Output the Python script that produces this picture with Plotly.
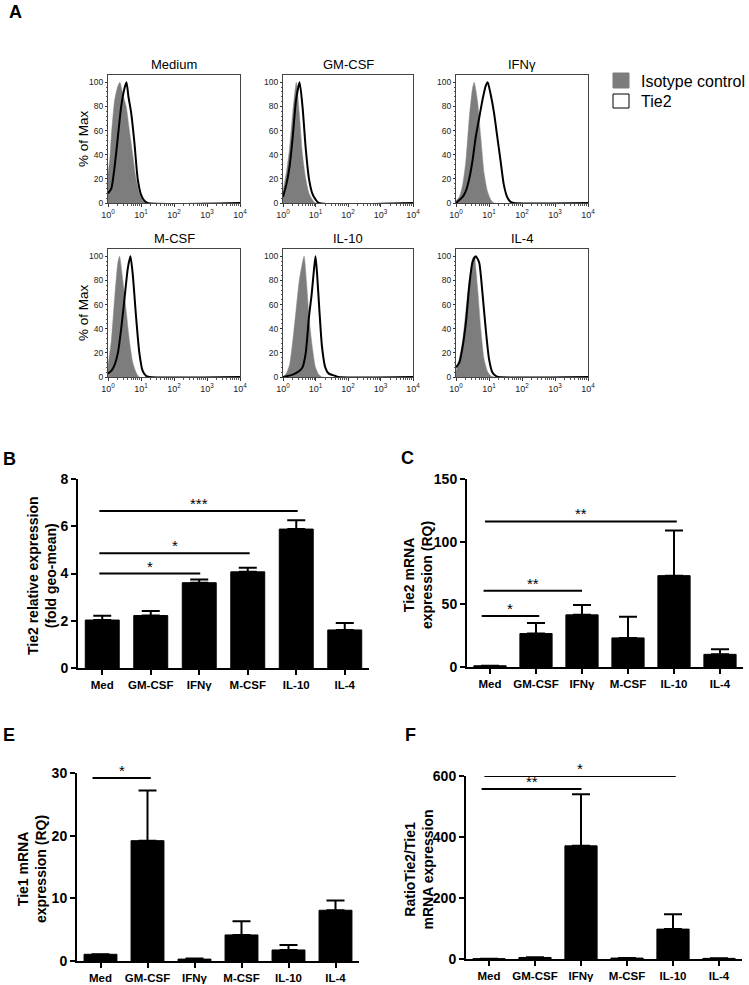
import math
import plotly.graph_objects as go

# ---------------- DATA ----------------
hist_titles = ["Medium", "GM-CSF", "IFNγ", "M-CSF", "IL-10", "IL-4"]
hist_tick_labels = ["10<sup>0</sup>", "10<sup>1</sup>", "10<sup>2</sup>", "10<sup>3</sup>", "10<sup>4</sup>"]

# fluorescence in log10 decades, % of max
medium_iso_x = [0, 0.05, 0.1, 0.2, 0.3, 0.36, 0.45, 0.55, 0.65, 0.75, 0.85, 0.95, 1.05, 1.15, 4.0]
medium_iso_y = [25, 35, 55, 85, 97, 100, 90, 80, 60, 40, 20, 8, 2, 0, 0]
medium_tie2_x = [0, 0.1, 0.2, 0.3, 0.4, 0.5, 0.56, 0.62, 0.7, 0.8, 0.9, 1.0, 1.1, 1.2, 4.0]
medium_tie2_y = [8, 12, 30, 55, 80, 95, 100, 88, 75, 50, 20, 7, 2, 0, 0]

gmcsf_iso_x = [0, 0.1, 0.2, 0.3, 0.41, 0.5, 0.6, 0.7, 0.8, 0.9, 1.0, 4.0]
gmcsf_iso_y = [10, 25, 45, 75, 100, 75, 40, 20, 8, 3, 0, 0]
gmcsf_tie2_x = [0, 0.1, 0.2, 0.3, 0.4, 0.51, 0.6, 0.7, 0.8, 0.9, 1.0, 1.1, 4.0]
gmcsf_tie2_y = [5, 15, 30, 55, 85, 100, 80, 45, 20, 8, 3, 0, 0]

ifng_iso_x = [0, 0.1, 0.2, 0.3, 0.4, 0.5, 0.55, 0.65, 0.75, 0.85, 0.95, 1.05, 1.15, 4.0]
ifng_iso_y = [2, 5, 15, 35, 70, 95, 100, 85, 55, 25, 10, 3, 0, 0]
ifng_tie2_x = [0, 0.2, 0.3, 0.4, 0.5, 0.6, 0.7, 0.8, 0.9, 0.96, 1.05, 1.15, 1.25, 1.35, 1.45, 1.55, 1.65, 1.75, 4.0]
ifng_tie2_y = [0, 5, 10, 20, 35, 55, 70, 85, 97, 100, 90, 75, 55, 35, 15, 5, 1, 0, 0]

mcsf_iso_x = [0, 0.1, 0.2, 0.3, 0.35, 0.45, 0.55, 0.65, 0.75, 0.85, 0.95, 4.0]
mcsf_iso_y = [10, 30, 65, 95, 100, 80, 55, 30, 12, 4, 0, 0]
mcsf_tie2_x = [0, 0.1, 0.2, 0.3, 0.4, 0.5, 0.6, 0.68, 0.75, 0.85, 0.95, 1.05, 1.15, 1.25, 4.0]
mcsf_tie2_y = [3, 5, 10, 20, 40, 65, 90, 100, 85, 50, 20, 5, 1, 0, 0]

il10_iso_x = [0, 0.1, 0.2, 0.3, 0.4, 0.5, 0.6, 0.65, 0.72, 0.8, 0.9, 1.0, 1.1, 1.2, 4.0]
il10_iso_y = [0, 3, 10, 30, 55, 80, 95, 100, 80, 50, 25, 8, 2, 0, 0]
il10_tie2_x = [0, 0.3, 0.5, 0.6, 0.7, 0.8, 0.88, 0.95, 1.0, 1.05, 1.12, 1.2, 1.3, 1.4, 1.6, 1.7, 4.0]
il10_tie2_y = [0, 2, 5, 8, 20, 50, 68, 88, 100, 85, 55, 25, 8, 3, 1, 0, 0]

il4_iso_x = [0, 0.1, 0.2, 0.3, 0.4, 0.5, 0.55, 0.65, 0.75, 0.85, 0.95, 1.05, 1.15, 4.0]
il4_iso_y = [5, 15, 30, 55, 80, 98, 100, 75, 40, 15, 5, 1, 0, 0]
il4_tie2_x = [0, 0.1, 0.2, 0.3, 0.4, 0.5, 0.6, 0.7, 0.8, 0.9, 1.0, 1.1, 1.2, 1.3, 4.0]
il4_tie2_y = [8, 12, 25, 45, 75, 95, 100, 95, 70, 40, 15, 4, 1, 0, 0]

bar_categories = ["Med", "GM-CSF", "IFNγ", "M-CSF", "IL-10", "IL-4"]

B_mean = [2.03, 2.22, 3.61, 4.07, 5.88, 1.61]
B_sem = [0.18, 0.19, 0.14, 0.17, 0.37, 0.30]
B_ticks = [0, 2, 4, 6, 8]
B_sig_start = [-0.06, -0.06, -0.06]
B_sig_end = [2.02, 3.04, 4.03]
B_sig_y = [4.0, 4.86, 6.65]
B_sig_text = ["*", "*", "***"]

C_mean = [1.0, 26.7, 41.6, 23.2, 72.9, 10.1]
C_sem = [0, 8.5, 7.8, 16.8, 36.0, 4.0]
C_ticks = [0, 50, 100, 150]
C_sig_start = [-0.18, -0.14, -0.11]
C_sig_end = [1.07, 2.0, 4.06]
C_sig_y = [40.6, 60.9, 116.1]
C_sig_text = ["*", "**", "**"]

E_mean = [1.07, 19.2, 0.3, 4.16, 1.76, 8.1]
E_sem = [0, 8.0, 0.1, 2.2, 0.8, 1.55]
E_ticks = [0, 10, 20, 30]
E_sig_start = [-0.17]
E_sig_end = [1.07]
E_sig_y = [29.2]
E_sig_text = ["*"]

F_mean = [1.0, 5.0, 371, 3.0, 98, 2.0]
F_sem = [0, 1.0, 169, 0.5, 49, 0.5]
F_ticks = [0, 200, 400, 600]
F_sig_start = [-0.16, -0.1]
F_sig_end = [2.01, 4.06]
F_sig_y = [557, 600]
F_sig_text = ["**", "*"]

# ---------------- FIGURE ----------------
W, H = 749, 985
FONT = "Liberation Sans, Arial, sans-serif"


def fx(p):
    return p / W


def fy(p):
    return 1 - p / H


fig = go.Figure()
annotations = []
shapes = []

hist_data = [
    (medium_iso_x, medium_iso_y, medium_tie2_x, medium_tie2_y),
    (gmcsf_iso_x, gmcsf_iso_y, gmcsf_tie2_x, gmcsf_tie2_y),
    (ifng_iso_x, ifng_iso_y, ifng_tie2_x, ifng_tie2_y),
    (mcsf_iso_x, mcsf_iso_y, mcsf_tie2_x, mcsf_tie2_y),
    (il10_iso_x, il10_iso_y, il10_tie2_x, il10_tie2_y),
    (il4_iso_x, il4_iso_y, il4_tie2_x, il4_tie2_y),
]
hist_cols = [(108, 240), (283, 413), (456, 588)]
hist_rows = [(75, 203), (249, 377)]

minor_x = [d + math.log10(k) for d in range(4) for k in range(2, 10)]
minor_y = [v for v in range(4, 104, 4) if v % 20 != 0]

layout = dict(
    width=W, height=H, margin=dict(l=0, r=0, t=0, b=0),
    paper_bgcolor="white", plot_bgcolor="white", showlegend=False,
    font=dict(family=FONT, color="black"),
)

for i, (ix, iy, tx, ty) in enumerate(hist_data):
    n = i + 1
    r, c = divmod(i, 3)
    x0, x1 = hist_cols[c]
    y0, y1 = hist_rows[r]
    xa = "x" if n == 1 else f"x{n}"
    ya = "y" if n == 1 else f"y{n}"
    fig.add_trace(go.Scatter(x=ix, y=iy, mode="lines", fill="tozeroy",
                             fillcolor="#7d7d7d",
                             line=dict(color="#8a8a8a", width=0.5, shape="spline", smoothing=0.6),
                             xaxis=xa, yaxis=ya, hoverinfo="skip"))
    fig.add_trace(go.Scatter(x=tx, y=ty, mode="lines",
                             line=dict(color="black", width=2, shape="spline", smoothing=0.6),
                             xaxis=xa, yaxis=ya, hoverinfo="skip"))
    layout[f"xaxis{n}"] = dict(
        domain=[fx(x0), fx(x1)], range=[0, 4], anchor=ya,
        tickvals=[0, 1, 2, 3, 4], ticktext=hist_tick_labels,
        ticks="outside", ticklen=3, tickwidth=1, tickcolor="#333",
        minor=dict(tickvals=minor_x, ticks="outside", ticklen=2, tickcolor="#555"),
        tickfont=dict(size=9, color="#222"),
        showline=True, mirror=True, linecolor="#444", linewidth=1,
        showgrid=False, zeroline=False, automargin=False,
    )
    layout[f"yaxis{n}"] = dict(
        domain=[fy(y1), fy(y0)], range=[0, 106], anchor=xa,
        tickvals=[0, 20, 40, 60, 80, 100],
        ticks="outside", ticklen=2, tickwidth=1, tickcolor="#333",
        minor=dict(tickvals=minor_y, ticks="outside", ticklen=1.5, tickcolor="#555"),
        tickfont=dict(size=8.5, color="#222"),
        showline=True, mirror=True, linecolor="#444", linewidth=1,
        showgrid=False, zeroline=False, automargin=False,
    )
    annotations.append(dict(text=hist_titles[i], x=fx((x0 + x1) / 2), y=fy(y0 - 11),
                            xref="paper", yref="paper", showarrow=False,
                            xanchor="center", yanchor="middle",
                            font=dict(size=13, color="black", family=FONT)))
    if c == 0:
        annotations.append(dict(text="% of Max", x=fx(83), y=fy((y0 + y1) / 2),
                                xref="paper", yref="paper", showarrow=False, textangle=-90,
                                xanchor="center", yanchor="middle",
                                font=dict(size=13.5, color="black", family=FONT)))

# legend
shapes.append(dict(type="rect", xref="paper", yref="paper",
                   x0=fx(613), x1=fx(629), y0=fy(88), y1=fy(73),
                   fillcolor="#7d7d7d", line=dict(color="#7d7d7d", width=1)))
shapes.append(dict(type="rect", xref="paper", yref="paper",
                   x0=fx(613), x1=fx(629), y0=fy(108), y1=fy(94),
                   fillcolor="white", line=dict(color="black", width=1)))
annotations.append(dict(text="Isotype control", x=fx(639), y=fy(82), xref="paper", yref="paper",
                        showarrow=False, xanchor="left", yanchor="middle",
                        font=dict(size=16, family=FONT, color="black")))
annotations.append(dict(text="Tie2", x=fx(639), y=fy(101), xref="paper", yref="paper",
                        showarrow=False, xanchor="left", yanchor="middle",
                        font=dict(size=16, family=FONT, color="black")))

# bar panels
bar_panels = [
    (B_mean, B_sem, B_ticks, B_sig_start, B_sig_end, B_sig_y, B_sig_text,
     (78, 369, 479, 668), "Tie2 relative expression<br>(fold geo-mean)", 41.5),
    (C_mean, C_sem, C_ticks, C_sig_start, C_sig_end, C_sig_y, C_sig_text,
     (467, 743, 479, 667), "Tie2 mRNA<br>expression (RQ)", 418),
    (E_mean, E_sem, E_ticks, E_sig_start, E_sig_end, E_sig_y, E_sig_text,
     (77, 359, 773, 961), "Tie1 mRNA<br>expression (RQ)", 32),
    (F_mean, F_sem, F_ticks, F_sig_start, F_sig_end, F_sig_y, F_sig_text,
     (466, 742, 776, 959), "RatioTie2/Tie1<br>mRNA expression", 418),
]

for j, (mean, sem, ticks, s0, s1, sy, st, box, title, title_x) in enumerate(bar_panels):
    n = 7 + j
    xa, ya = f"x{n}", f"y{n}"
    px0, px1, py0, py1 = box
    xs = list(range(len(bar_categories)))
    fig.add_trace(go.Bar(x=xs, y=mean, width=0.7, xaxis=xa, yaxis=ya,
                         marker=dict(color="black", line=dict(color="black", width=1)),
                         error_y=dict(type="data", symmetric=False, array=sem,
                                      arrayminus=[0] * len(sem), color="black",
                                      thickness=2, width=9),
                         hoverinfo="skip"))
    for a, b, yy, t in zip(s0, s1, sy, st):
        fig.add_trace(go.Scatter(x=[a, b], y=[yy, yy], mode="lines",
                                 line=dict(color="black", width=2),
                                 xaxis=xa, yaxis=ya, hoverinfo="skip"))
        annotations.append(dict(text=t, x=(a + b) / 2, y=yy, xref=xa, yref=ya,
                                showarrow=False, xanchor="center", yanchor="bottom",
                                yshift=-3, font=dict(size=15, family=FONT, color="black")))
    layout[f"xaxis{n}"] = dict(
        domain=[fx(px0), fx(px1)], range=[-0.5, 5.5], anchor=ya,
        tickvals=xs, ticktext=bar_categories,
        ticks="outside", ticklen=5, tickwidth=2, tickcolor="black",
        tickfont=dict(size=11.5, family=FONT, color="black", weight="bold"),
        showline=True, linecolor="black", linewidth=2,
        showgrid=False, zeroline=False, automargin=False,
    )
    layout[f"yaxis{n}"] = dict(
        domain=[fy(py1), fy(py0)], range=[0, ticks[-1]], anchor=xa,
        tickvals=ticks,
        ticks="outside", ticklen=5, tickwidth=2, tickcolor="black",
        tickfont=dict(size=14, family=FONT, color="black", weight="bold"),
        showline=True, linecolor="black", linewidth=2,
        showgrid=False, zeroline=False, automargin=False,
    )
    annotations.append(dict(text=title, x=fx(title_x), y=fy((py0 + py1) / 2 + 2),
                            xref="paper", yref="paper", showarrow=False, textangle=-90,
                            xanchor="center", yanchor="middle",
                            font=dict(size=14, family=FONT, color="black", weight="bold")))

# panel letters
for letter, (lx, ly) in zip(["A", "B", "C", "E", "F"],
                            [(15, 12), (9, 459), (407, 458), (9, 735), (410, 735)]):
    annotations.append(dict(text=letter, x=fx(lx), y=fy(ly), xref="paper", yref="paper",
                            showarrow=False, xanchor="center", yanchor="middle",
                            font=dict(size=18, family=FONT, color="black", weight="bold")))

layout["annotations"] = annotations
layout["shapes"] = shapes
fig.update_layout(**layout)

fig.write_html("out.html", config={"displayModeBar": False},
               post_script="document.body.style.margin='0';document.body.style.overflow='hidden';")
